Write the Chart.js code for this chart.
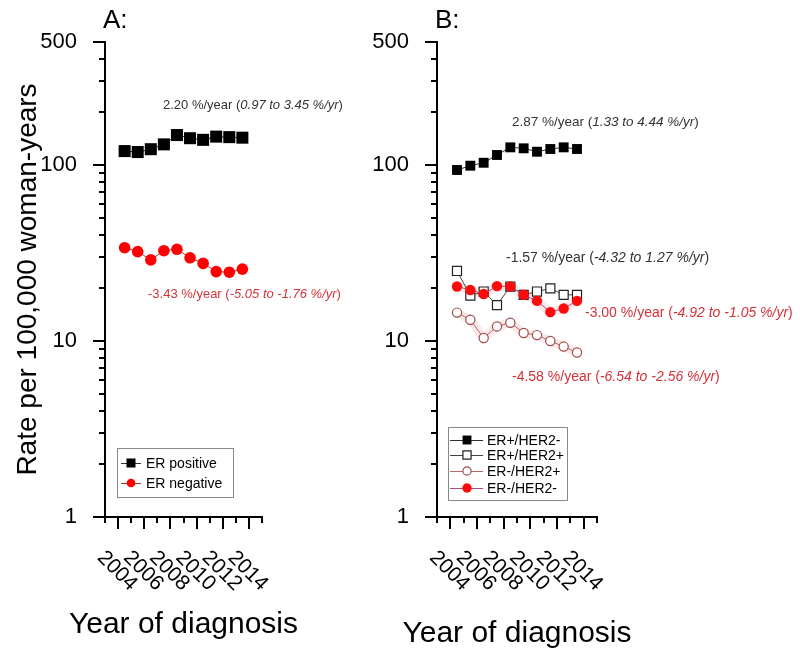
<!DOCTYPE html>
<html>
<head>
<meta charset="utf-8">
<script src="https://cdn.jsdelivr.net/npm/chart.js@4/dist/chart.umd.min.js"></script>
<style>
html,body{margin:0;padding:0;background:#fff;}
#wrap{position:relative;width:800px;height:651px;background:#fff;}
canvas{position:absolute;left:0;top:0;}
</style>
</head>
<body>
<div id="wrap">
<canvas id="cA" width="800" height="651" style="width:800px;height:651px"></canvas>
<canvas id="cB" width="800" height="651" style="width:800px;height:651px"></canvas>
</div>
<script>
// ---------------- data ----------------
const years = [2004.5, 2005.5, 2006.5, 2007.5, 2008.5, 2009.5, 2010.5, 2011.5, 2012.5, 2013.5];
const erPositive   = [120, 118.5, 123, 131, 148, 142, 139, 145, 144, 143];
const erNegative   = [33.9, 32.2, 28.9, 32.6, 33.2, 29.7, 27.6, 24.8, 24.6, 25.6];
const erPosHer2Neg = [93.7, 99.1, 103, 114, 126, 124.4, 119, 123.3, 126, 123.3];
const erPosHer2Pos = [25.0, 18.1, 19.1, 16.0, 20.4, 18.3, 19.1, 19.9, 18.3, 18.3];
const erNegHer2Pos = [14.5, 13.2, 10.4, 12.1, 12.7, 11.1, 10.8, 10.0, 9.3, 8.6];
const erNegHer2Neg = [20.4, 19.5, 18.5, 20.5, 20.4, 18.3, 16.9, 14.6, 15.3, 16.9];
const yTickValues  = [1, 10, 100, 500];
const yMinorValues = [2,3,4,5,6,7,8,9,20,30,40,50,60,70,80,90,200,300,400];
const xTickLabels  = [2004, 2006, 2008, 2010, 2012, 2014];
const xRange = [2003, 2015];
const yRange = [1, 500];
const trendsA = [
  {rate: '2.20', lo: '0.97', hi: '3.45'},
  {rate: '-3.43', lo: '-5.05', hi: '-1.76'}
];
const trendsB = [
  {rate: '2.87', lo: '1.33', hi: '4.44'},
  {rate: '-1.57', lo: '-4.32', hi: '1.27'},
  {rate: '-3.00', lo: '-4.92', hi: '-1.05'},
  {rate: '-4.58', lo: '-6.54', hi: '-2.56'}
];
const axisTitleX = 'Year of diagnosis';
const axisTitleY = 'Rate per 100,000 woman-years';

// ---------------- styling / helpers ----------------
const FONT = '"Liberation Sans", Arial, Helvetica, sans-serif';
Chart.defaults.font.family = FONT;
const RED_TXT = '#d2323a';
const pts = vals => years.map((x, i) => ({x: x, y: vals[i]}));

function drawNote(ctx, t, pos) {
  let x = pos.x;
  const parts = [[t.rate + ' %/year (', false], [t.lo + ' to ' + t.hi + ' %/yr', true], [')', false]];
  ctx.fillStyle = pos.color;
  ctx.textAlign = 'left';
  ctx.textBaseline = 'middle';
  parts.forEach(([s, it]) => {
    ctx.font = (it ? 'italic ' : '') + pos.size + 'px ' + FONT;
    ctx.fillText(s, x, pos.y);
    x += ctx.measureText(s).width;
  });
}

function drawLegend(ctx, chart, lg) {
  ctx.save();
  ctx.strokeStyle = '#8a8a8a';
  ctx.lineWidth = 1;
  ctx.strokeRect(lg.box[0] + 0.5, lg.box[1] + 0.5, lg.box[2], lg.box[3]);
  const sets = chart.data.datasets.filter(d => !d.halo);
  sets.forEach((ds, i) => {
    const y = lg.rows[i];
    ctx.strokeStyle = ds.borderColor;
    ctx.lineWidth = 1;
    ctx.beginPath();
    ctx.moveTo(lg.line[0], y + 0.5);
    ctx.lineTo(lg.line[1], y + 0.5);
    ctx.stroke();
    ctx.fillStyle = ds.pointBackgroundColor;
    ctx.strokeStyle = ds.pointBorderColor;
    ctx.lineWidth = ds.pointBorderWidth;
    Chart.helpers.drawPoint(ctx, {
      pointStyle: ds.pointStyle, radius: ds.pointRadius * lg.scale,
      rotation: 0, borderWidth: ds.pointBorderWidth
    }, lg.mark, y);
    ctx.fillStyle = '#000';
    ctx.font = '14px ' + FONT;
    ctx.textAlign = 'left';
    ctx.textBaseline = 'middle';
    ctx.fillText(ds.label, lg.text, y + 1);
  });
  ctx.restore();
}

function decor(cfg) {
  return {
    id: 'decor' + cfg.letter,
    afterDraw(chart) {
      const ctx = chart.ctx;
      const xs = chart.scales.x, ys = chart.scales.y;
      const a = chart.chartArea;
      ctx.save();
      ctx.strokeStyle = '#000';
      ctx.lineWidth = 2;
      xs.ticks.forEach(t => {
        const px = Math.round(xs.getPixelForValue(t.value));
        const len = xTickLabels.includes(t.value) ? 12 : 6;
        ctx.beginPath(); ctx.moveTo(px, a.bottom); ctx.lineTo(px, a.bottom + len); ctx.stroke();
      });
      ys.ticks.forEach(t => {
        const py = Math.round(ys.getPixelForValue(t.value));
        const len = yTickValues.includes(t.value) ? 12 : 6;
        ctx.beginPath(); ctx.moveTo(a.left, py); ctx.lineTo(a.left - len, py); ctx.stroke();
      });
      ctx.fillStyle = '#000';
      ctx.font = '21px ' + FONT;
      ctx.textAlign = 'center';
      ctx.textBaseline = 'middle';
      xTickLabels.forEach(v => {
        const px = xs.getPixelForValue(v);
        ctx.save();
        ctx.translate(px - 1, a.bottom + 54);
        ctx.rotate(Math.PI / 4);
        ctx.fillText(String(v), 0, 0);
        ctx.restore();
      });
      ctx.font = '30px ' + FONT;
      ctx.textBaseline = 'alphabetic';
      ctx.fillText(axisTitleX, (a.left + a.right) / 2, cfg.titleBase);
      ctx.font = '26px ' + FONT;
      ctx.textAlign = 'left';
      ctx.fillText(cfg.letter + ':', a.left - 2, 28);
      cfg.trends.forEach((t, i) => drawNote(ctx, t, cfg.notePos[i]));
      drawLegend(ctx, chart, cfg.legend);
      ctx.restore();
    }
  };
}

function makeChart(id, datasets, box, yTitle, cfg) {
  return new Chart(document.getElementById(id), {
    type: 'line',
    data: {datasets: datasets},
    options: {
      responsive: false,
      animation: false,
      devicePixelRatio: 1,
      layout: {padding: {left: box.padLeft, right: 800 - box.right, top: box.top, bottom: 0}},
      plugins: {legend: {display: false}, tooltip: {enabled: false}},
      scales: {
        x: {
          type: 'linear', position: 'bottom', min: xRange[0], max: xRange[1],
          ticks: {display: false, stepSize: 1},
          grid: {display: false},
          border: {display: true, color: '#000', width: 2},
          afterFit: s => { s.height = 651 - box.bottom; }
        },
        y: {
          type: 'logarithmic', min: yRange[0], max: yRange[1],
          afterBuildTicks: s => {
            s.ticks = yTickValues.concat(yMinorValues).sort((p, q) => p - q).map(v => ({value: v}));
          },
          ticks: {
            autoSkip: false, padding: 20, color: '#000',
            font: {size: 22, family: FONT},
            callback: v => yTickValues.includes(v) ? String(v) : ''
          },
          grid: {display: false},
          border: {display: true, color: '#000', width: 2},
          title: yTitle ? {display: true, text: axisTitleY, color: '#000',
                           font: {size: 28, family: FONT}, padding: {top: 11, bottom: 0}} : {display: false},
          afterFit: s => { s.width = box.yWidth; }
        }
      }
    },
    plugins: [decor(cfg)]
  });
}

// ---------------- Panel A ----------------
const dsA = [
  {label: 'ER positive', data: pts(erPositive), borderColor: '#333', borderWidth: 1,
   pointStyle: 'rect', pointRadius: 8.5, pointBackgroundColor: '#000', pointBorderColor: '#000', pointBorderWidth: 0, order: 1},
  {label: 'ER negative', data: pts(erNegative), borderColor: '#a03a3a', borderWidth: 1,
   pointStyle: 'circle', pointRadius: 5.8, pointBackgroundColor: '#ff0000', pointBorderColor: '#ff0000', pointBorderWidth: 0, order: 0}
];
makeChart('cA', dsA, {padLeft: 0, yWidth: 105, right: 262, top: 42, bottom: 517}, true, {
  letter: 'A', titleBase: 633, trends: trendsA,
  notePos: [{x: 163, y: 105, color: '#333', size: 13}, {x: 148, y: 294, color: RED_TXT, size: 13}],
  legend: {box: [117, 448, 116, 49], rows: [463, 483], line: [121, 141], mark: 131, text: 146, scale: 0.75}
});

// ---------------- Panel B ----------------
const dsB = [
  {label: 'ER+/HER2-', data: pts(erPosHer2Neg), borderColor: '#333', borderWidth: 1,
   pointStyle: 'rect', pointRadius: 7, pointBackgroundColor: '#000', pointBorderColor: '#000', pointBorderWidth: 0, order: 2},
  {label: 'ER+/HER2+', data: pts(erPosHer2Pos), borderColor: '#444', borderWidth: 1,
   pointStyle: 'rect', pointRadius: 6.4, pointBackgroundColor: '#fff', pointBorderColor: '#222', pointBorderWidth: 1.2, order: 3},
  {label: 'ER-/HER2+', data: pts(erNegHer2Pos), borderColor: '#b06a6a', borderWidth: 1,
   pointStyle: 'circle', pointRadius: 4.6, pointBackgroundColor: '#fff', pointBorderColor: '#a04a4a', pointBorderWidth: 1.2, order: 1},
  {label: 'ER-/HER2-', data: pts(erNegHer2Neg), borderColor: '#b04a8a', borderWidth: 1,
   pointStyle: 'circle', pointRadius: 5.2, pointBackgroundColor: '#ff0a0a', pointBorderColor: '#ff0a0a', pointBorderWidth: 0, order: 0},
  {halo: true, label: '', data: pts(erNegHer2Pos), borderColor: 'rgba(230,120,120,0.16)', borderWidth: 9,
   pointRadius: 0, order: 5},
  {halo: true, label: '', data: pts(erNegHer2Neg), borderColor: 'rgba(230,120,120,0.16)', borderWidth: 9,
   pointRadius: 0, order: 5}
];
makeChart('cB', dsB, {padLeft: 337, yWidth: 100, right: 597, top: 42, bottom: 517}, false, {
  letter: 'B', titleBase: 642, trends: trendsB,
  notePos: [{x: 512, y: 122, color: '#333', size: 13.5}, {x: 506, y: 258, color: '#333', size: 14},
            {x: 585, y: 313, color: RED_TXT, size: 14}, {x: 512, y: 377, color: RED_TXT, size: 14}],
  legend: {box: [448, 427, 119, 73], rows: [440, 455, 471, 488], line: [450, 483], mark: 467, text: 487, scale: 0.9}
});
</script>
</body>
</html>
